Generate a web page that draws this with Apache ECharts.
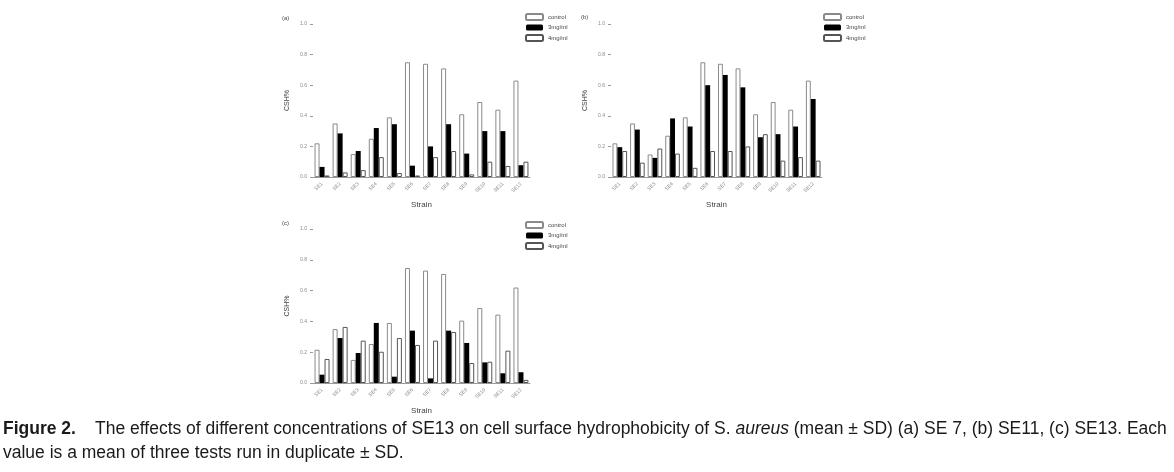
<!DOCTYPE html>
<html>
<head>
<meta charset="utf-8">
<script src="https://cdn.jsdelivr.net/npm/echarts@6/dist/echarts.min.js"></script>
<style>
html,body{margin:0;padding:0;background:#fff;}
#chart{width:1174px;height:472px;}
</style>
</head>
<body>
<div id="chart"></div>
<script>
// ---- data ----
var strains = ['SE1','SE2','SE3','SE4','SE5','SE6','SE7','SE8','SE9','SE10','SE11','SE12'];
var seriesNames = ['control','3mg/ml','4mg/ml'];
var yTicks = [0.0, 0.2, 0.4, 0.6, 0.8, 1.0];

// (a) SE 7
var aControl = [0.22,0.35,0.15,0.25,0.39,0.75,0.74,0.71,0.41,0.49,0.44,0.63];
var a3mg     = [0.066,0.285,0.17,0.32,0.345,0.074,0.20,0.345,0.153,0.30,0.30,0.077];
var a4mg     = [0.01,0.03,0.045,0.13,0.026,0.01,0.13,0.17,0.017,0.10,0.072,0.10];

// (b) SE11
var bControl = [0.22,0.35,0.147,0.27,0.39,0.75,0.74,0.71,0.41,0.49,0.44,0.63];
var b3mg     = [0.195,0.31,0.125,0.383,0.33,0.60,0.667,0.586,0.26,0.28,0.33,0.51];
var b4mg     = [0.17,0.094,0.186,0.153,0.06,0.17,0.17,0.20,0.28,0.107,0.13,0.107];

// (c) SE13
var cControl = [0.216,0.35,0.15,0.253,0.39,0.747,0.73,0.708,0.405,0.487,0.444,0.62];
var c3mg     = [0.054,0.292,0.195,0.39,0.041,0.34,0.03,0.34,0.26,0.134,0.063,0.07];
var c4mg     = [0.156,0.364,0.275,0.203,0.292,0.247,0.275,0.331,0.13,0.138,0.21,0.02];

var panels = [
  {label:'(a)', data:[aControl,a3mg,a4mg], grid:{left:313, top:24, width:217, height:153}, legend:{left:520, top:8}, lab:{x:282, y:19}},
  {label:'(b)', data:[bControl,b3mg,b4mg], grid:{left:611, top:24, width:211, height:153}, legend:{left:818, top:8}, lab:{x:581, y:18}},
  {label:'(c)', data:[cControl,c3mg,c4mg], grid:{left:313, top:229, width:217, height:154}, legend:{left:520, top:216}, lab:{x:282, y:224}}
];

var styles = [
  {color:'#ffffff', borderColor:'#8a8a8a', borderWidth:1},
  {color:'#000000', borderColor:'#000000', borderWidth:0},
  {color:'#ffffff', borderColor:'#555555', borderWidth:1}
];

var option = {
  animation:false,
  backgroundColor:'#fff',
  grid:[], xAxis:[], yAxis:[], series:[], legend:[], graphic:[]
};

panels.forEach(function(p, i){
  option.grid.push(p.grid);
  option.xAxis.push({
    type:'category', gridIndex:i, data:strains,
    name:'Strain', nameLocation:'middle', nameGap:24,
    nameTextStyle:{fontSize:8, color:'#444', fontFamily:'Liberation Sans'},
    axisLine:{lineStyle:{color:'#999', width:1}},
    axisTick:{show:false},
    axisLabel:{rotate:45, fontSize:5, color:'#888', margin:6, interval:0, fontFamily:'Liberation Sans'}
  });
  option.yAxis.push({
    type:'value', gridIndex:i, min:0, max:1, interval:0.2,
    name:'CSH%', nameLocation:'middle', nameGap:22,
    nameTextStyle:{fontSize:7, color:'#444', fontFamily:'Liberation Sans'},
    axisLine:{show:false},
    axisTick:{show:true, length:3, lineStyle:{color:'#999'}},
    splitLine:{show:false},
    axisLabel:{fontSize:5, color:'#888', margin:6, fontFamily:'Liberation Sans',
      formatter:function(v){ return v.toFixed(1); }}
  });
  p.data.forEach(function(arr, k){
    option.series.push({
      type:'bar', name:seriesNames[k], xAxisIndex:i, yAxisIndex:i,
      data:arr, barGap:'0%', barCategoryGap:'17%',
      itemStyle:styles[k]
    });
  });
  option.legend.push({
    left:p.legend.left, top:p.legend.top, orient:'vertical',
    itemWidth:17, itemHeight:6, itemGap:3.5,
    textStyle:{fontSize:6, color:'#444', fontFamily:'Liberation Sans'},
    data:seriesNames, selectedMode:false
  });
  option.graphic.push({
    type:'text', left:p.lab.x, top:p.lab.y - 4,
    style:{text:p.label, fontSize:6, fill:'#444', fontFamily:'Liberation Sans'}
  });
});

// caption
var capFont = 'Liberation Sans';
var capSize = 17.5;
option.graphic.push({
  type:'text', left:3, top:420,
  style:{text:'Figure 2.', fontSize:capSize, fontWeight:'bold', fill:'#1a1a1a', fontFamily:capFont}
});
option.graphic.push({
  type:'text', left:95, top:420,
  style:{
    text:'{n|The effects of different concentrations of SE13 on cell surface hydrophobicity of S. }{i|aureus}{n| (mean \u00b1 SD) (a) SE 7, (b) SE11, (c) SE13. Each}',
    rich:{
      n:{fontSize:capSize, fill:'#1a1a1a', fontFamily:capFont},
      i:{fontSize:capSize, fill:'#1a1a1a', fontStyle:'italic', fontFamily:capFont}
    }
  }
});
option.graphic.push({
  type:'text', left:3, top:444,
  style:{text:'value is a mean of three tests run in duplicate \u00b1 SD.', fontSize:capSize, fill:'#1a1a1a', fontFamily:capFont}
});

var chart = echarts.init(document.getElementById('chart'), null, {renderer:'canvas'});
chart.setOption(option);
</script>
</body>
</html>
